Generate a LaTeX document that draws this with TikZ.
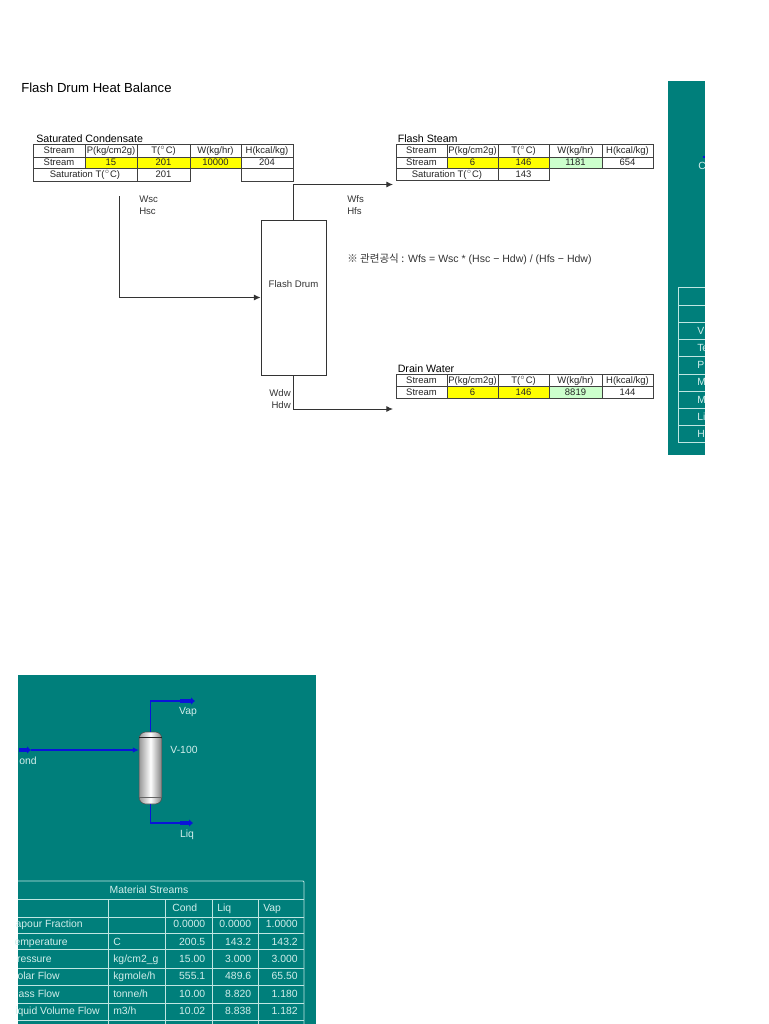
\documentclass[tikz,border=0pt]{standalone}
\usepackage{fontspec}
\setmainfont{Liberation Sans}
\newfontfamily\krfont{Noto Sans CJK KR}
\usepackage[rgb]{xcolor}
\usetikzlibrary{arrows.meta}

\definecolor{panelteal}{HTML}{007F7B}
\definecolor{panelline}{HTML}{BFE6E2}
\definecolor{paneltext}{HTML}{D2EEEB}
\definecolor{streamblue}{HTML}{0A14D8}
\definecolor{calcgreen}{HTML}{CCFFCC}

\tikzset{
  cellbox/.style={draw=black!75, line width=0.7pt},
  celltext/.style={font=\fontsize{7.1}{8}\selectfont, text=black!85, inner sep=0pt, text height=5.2pt, text depth=0.4pt},
  caption/.style={font=\fontsize{8}{9}\selectfont, anchor=base west, inner sep=0pt},
  tag/.style={font=\fontsize{7.2}{8}\selectfont, text=black!80, inner sep=0pt, text height=5.2pt, text depth=0.4pt},
  pipe/.style={draw=black!80, line width=0.7pt, -{Latex[length=5pt,width=4.5pt]}},
  panelrule/.style={draw=panelline, line width=0.6pt},
  paneltag/.style={font=\fontsize{7.8}{9}\selectfont, text=paneltext, inner sep=0pt, text height=5.8pt, text depth=1pt},
  stream/.style={draw=streamblue, line width=1.3pt},
  streamend/.style={draw=streamblue, line width=2.4pt, -{Latex[length=3pt,width=6pt]}},
}

% one cell of a sheet table: name, corners, fill, text
\newcommand{\sheetcell}[7]{
\filldraw[cellbox, fill=#6] (#2,#3) rectangle (#4,#5)
 node[midway, celltext] (#1) {#7};
}

% header row: table name, six column edges, top and bottom
\newcommand{\sheethead}[9]{
\sheetcell{#1a}{#2}{#8}{#3}{#9}{white}{Stream}
\sheetcell{#1b}{#3}{#8}{#4}{#9}{white}{P(kg/cm2g)}
\sheetcell{#1c}{#4}{#8}{#5}{#9}{white}{T($^{\circ}$C)}
\sheetcell{#1d}{#5}{#8}{#6}{#9}{white}{W(kg/hr)}
\sheetcell{#1e}{#6}{#8}{#7}{#9}{white}{H(kcal/kg)}
}

\begin{document}
\begin{tikzpicture}[x=0.75pt, y=-0.75pt]

\useasboundingbox (0,0) rectangle (768,1024);

\node[anchor=base west, inner sep=0pt, font=\fontsize{9.85}{12}\selectfont] (title) at (21,92.5) {Flash Drum Heat Balance};

% tables
\node[caption] (condcaption) at (36,142.5) {Saturated Condensate};
\sheethead{ch}{33}{85}{137}{190}{241}{293}{144}{157}
\sheetcell{csa}{33}{157}{85}{168.5}{white}{Stream}
\sheetcell{csb}{85}{157}{137}{168.5}{yellow}{15}
\sheetcell{csc}{137}{157}{190}{168.5}{yellow}{201}
\sheetcell{csd}{190}{157}{241}{168.5}{yellow}{10000}
\sheetcell{cse}{241}{157}{293}{168.5}{white}{204}
\sheetcell{cta}{33}{168.5}{137}{181}{white}{Saturation T($^{\circ}$C)}
\sheetcell{ctb}{137}{168.5}{190}{181}{white}{201}
\sheetcell{ctc}{241}{168.5}{293}{181}{white}{}

\node[caption] (steamcaption) at (397.5,142.5) {Flash Steam};
\sheethead{sh}{396}{447}{498}{549}{602}{653}{144}{157}
\sheetcell{ssa}{396}{157}{447}{168.5}{white}{Stream}
\sheetcell{ssb}{447}{157}{498}{168.5}{yellow}{6}
\sheetcell{ssc}{498}{157}{549}{168.5}{yellow}{146}
\sheetcell{ssd}{549}{157}{602}{168.5}{calcgreen}{1181}
\sheetcell{sse}{602}{157}{653}{168.5}{white}{654}
\sheetcell{sta}{396}{168.5}{498}{180.5}{white}{Saturation T($^{\circ}$C)}
\sheetcell{stb}{498}{168.5}{549}{180.5}{white}{143}

\node[caption] (draincaption) at (397.5,372.5) {Drain Water};
\sheethead{dh}{396}{447}{498}{549}{602}{653}{374}{386}
\sheetcell{dsa}{396}{386}{447}{398}{white}{Stream}
\sheetcell{dsb}{447}{386}{498}{398}{yellow}{6}
\sheetcell{dsc}{498}{386}{549}{398}{yellow}{146}
\sheetcell{dsd}{549}{386}{602}{398}{calcgreen}{8819}
\sheetcell{dse}{602}{386}{653}{398}{white}{144}

% drum and its lines
\node[draw=black!80, line width=0.7pt, minimum width=48.75pt, minimum height=116.25pt, inner sep=0pt] (drum) at (293.5,297.5) {};
\node[tag] (drumtag) at (293.5,284) {Flash Drum};
\path (119,196) coordinate (condstart)
      (393,184.5) coordinate (steamend)
      (393,409) coordinate (drainend);
\draw[pipe] (condstart) |- (drum.west);
\draw[pipe] (drum.north) |- (steamend);
\draw[pipe] (drum.south) |- (drainend);

\node[tag, anchor=west] (wsc) at (139,199) {Wsc};
\node[tag, anchor=west] (hsc) at (139,211.5) {Hsc};
\node[tag, anchor=west] (wfs) at (347,199) {Wfs};
\node[tag, anchor=west] (hfs) at (347,211.5) {Hfs};
\node[tag, anchor=east] (wdw) at (291,393) {Wdw};
\node[tag, anchor=east] (hdw) at (291,405) {Hdw};
\node[tag, anchor=west, font=\fontsize{7.9}{9}\selectfont] (formula) at (347,259.5) {{\krfont ※ 관련공식 :} Wfs = Wsc * (Hsc − Hdw) / (Hfs − Hdw)};

% right panel, cut off at the page margin
\fill[panelteal] (668,81) rectangle (704.5,454.5);
\draw[streamblue, line width=1.2pt] (702.5,157) -- (704.5,157);
\draw[panelrule] (704.5,287) -- (678,287) -- (678,442) -- (704.5,442);
\foreach \y in {305,322,339,356,374,391,408,425}{
 \draw[panelrule] (678,\y) -- (704.5,\y);
}
\begin{scope}
\clip (668,81) rectangle (704.5,454.5);
\node[paneltag, anchor=west] (condpart) at (698,166.5) {C};
\foreach \y/\rowpart [count=\i] in {331/V,348/Te,365.5/P,382/M,400/M,417/Li,434/H}{
 \node[paneltag, anchor=west] (toprow\i) at (697,\y) {\rowpart};
}
\end{scope}

% lower panel
\fill[panelteal] (18,675) rectangle (315.5,1024);
\path (18.5,750) coordinate (feedstart)
      (31,750) coordinate (feedstub)
      (180,701) coordinate (vapstub)
      (195,701) coordinate (vapend)
      (180,823) coordinate (liqstub)
      (193,823) coordinate (liqend);
\node[draw=black!70, line width=0.4pt, minimum width=17pt, minimum height=54pt,
 rounded corners=5pt, inner sep=0pt, left color=black!40, right color=black!50, middle color=white] (vessel) at (150.5,768) {};
\draw[black!85, line width=0.6pt] ([yshift=-4.6pt]vessel.north west) -- ([yshift=-4.6pt]vessel.north east);
\draw[black!60, line width=0.5pt] ([yshift=5pt]vessel.south west) -- ([yshift=5pt]vessel.south east);
\draw[streamend] (feedstart) -- (feedstub);
\draw[stream, -{Latex[length=4.5pt,width=4pt]}] (feedstub) -- (vessel.west |- feedstub);
\draw[stream] (vessel.north) |- (vapstub);
\draw[streamend] (vapstub) -- (vapend);
\draw[stream] (vessel.south) |- (liqstub);
\draw[streamend] (liqstub) -- (liqend);
\node[paneltag, anchor=east] (condtag) at (37,761) {ond};
\node[paneltag] (vaptag) at (188,711) {Vap};
\node[paneltag] (vesseltag) at (184,750) {V-100};
\node[paneltag] (liqtag) at (187,834) {Liq};

\draw[panelrule] (18,881) -- (303,881) to[out=0,in=90] (304,882) -- (304,1024);
\foreach \y in {899,917,933,949,968,985,1003,1020}{
 \draw[panelrule] (18,\y) -- (304,\y);
}
\foreach \x in {108,165,212,258}{
 \draw[panelrule] (\x,899) -- (\x,1024);
}
\node[paneltag] (sheettag) at (149,890.5) {Material Streams};
\node[paneltag, anchor=west] (condhead) at (172,908) {Cond};
\node[paneltag, anchor=west] (liqhead) at (217,908) {Liq};
\node[paneltag, anchor=west] (vaphead) at (263,908) {Vap};
\foreach \y/\rowend/\rowname/\unit/\valc/\vall/\valv [count=\i] in {
 924.5/83/apour Fraction/{}/0.0000/0.0000/1.0000,
 942.5/68/emperature/C/200.5/143.2/143.2,
 959.5/52/ressure/{kg/cm2\_g}/15.00/3.000/3.000,
 976/60/olar Flow/{kgmole/h}/555.1/489.6/65.50,
 994/60/ass Flow/{tonne/h}/10.00/8.820/1.180,
 1011/100/iquid Volume Flow/{m3/h}/10.02/8.838/1.182}{
 \node[paneltag, anchor=east] (row\i) at (\rowend,\y) {\rowname};
 \node[paneltag, anchor=west] (unit\i) at (113,\y) {\unit};
 \node[paneltag, anchor=east] (cond\i) at (205.5,\y) {\valc};
 \node[paneltag, anchor=east] (liq\i) at (251.5,\y) {\vall};
 \node[paneltag, anchor=east] (vap\i) at (298,\y) {\valv};
}

\end{tikzpicture}
\end{document}
